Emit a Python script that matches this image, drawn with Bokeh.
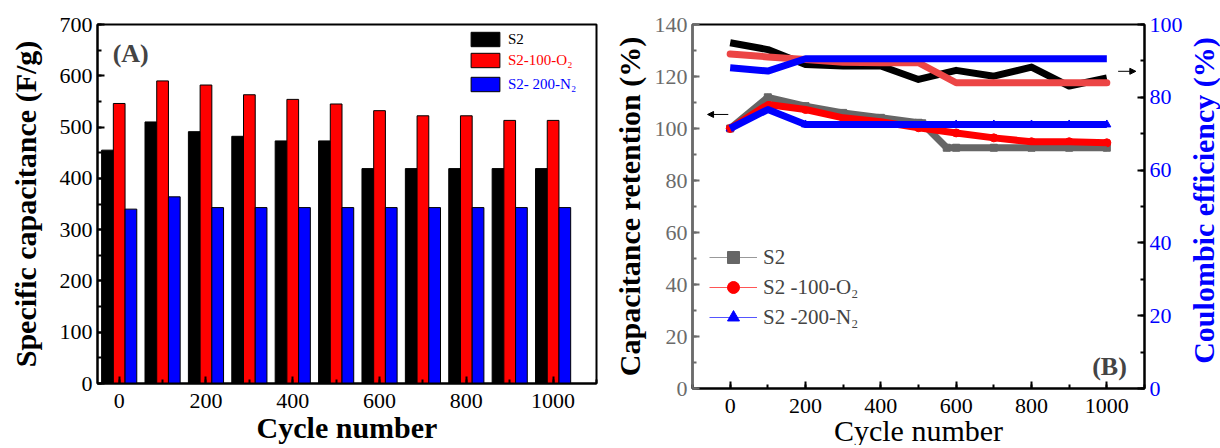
import math
from bokeh.plotting import figure
from bokeh.layouts import row
from bokeh.models import (Range1d, LinearAxis, SingleIntervalTicker, Legend, LegendItem,
                          Label, Arrow, NormalHead)
from bokeh.embed import file_html
from bokeh.resources import INLINE

SERIF = "Liberation Serif"

# ---------------- Panel A data ----------------
cycles = [0, 100, 200, 300, 400, 500, 600, 700, 800, 900, 1000]
cap_s2 = [455, 510, 491, 482, 473, 473, 419, 419, 419, 419, 419]
cap_o2 = [546, 590, 582, 563, 554, 545, 532, 522, 522, 513, 513]
cap_n2 = [340, 364, 343, 343, 343, 343, 343, 343, 343, 343, 343]
bar_labels = ["S2", "S2-100-O\u2082", "S2- 200-N\u2082"]

# ---------------- Panel B data ----------------
ret_s2_x = [0, 100, 200, 300, 400, 500, 510, 575, 600, 700, 800, 900, 1000]
ret_s2 = [100, 112, 108.6, 106, 104.1, 102.2, 102, 92.6, 92.6, 92.6, 92.6, 92.6, 92.6]
ret_o2 = [100, 109.2, 107.3, 104.1, 102.6, 100.3, 98.3, 96.4, 94.9, 94.9, 94.5]
ret_n2 = [100, 107.3, 101.5, 101.5, 101.5, 101.5, 101.5, 101.5, 101.5, 101.5, 101.5]
ce_s2 = [95.0, 93.1, 89.0, 88.6, 88.6, 84.9, 87.4, 85.8, 88.3, 83.1, 85.3]
ce_o2 = [91.9, 91.1, 90.4, 89.6, 89.5, 89.5, 84.0, 84.0, 84.0, 84.0, 84.0]
ce_n2 = [88.1, 87.2, 90.6, 90.6, 90.6, 90.6, 90.6, 90.6, 90.6, 90.6, 90.6]
line_labels = ["S2", "S2 -100-O\u2082", "S2 -200-N\u2082"]


def style_axis(ax, color="black", label_color="black", bold=True, label_size="30px"):
    ax.axis_line_color = color
    ax.axis_line_width = 2
    ax.major_tick_line_color = color
    ax.minor_tick_line_color = color
    ax.major_tick_line_width = 2
    ax.minor_tick_line_width = 2
    ax.major_tick_in = 7
    ax.major_tick_out = 0
    ax.minor_tick_in = 4
    ax.minor_tick_out = 0
    ax.major_label_text_font = SERIF
    ax.major_label_text_font_size = "22px"
    ax.major_label_text_color = label_color
    ax.major_label_standoff = 5
    ax.axis_label_text_font = SERIF
    ax.axis_label_text_font_size = label_size
    ax.axis_label_text_font_style = "bold" if bold else "normal"
    ax.axis_label_text_color = "black"
    ax.axis_label_standoff = 6


# ================= Panel A =================
p1 = figure(frame_width=499, frame_height=359, min_border_left=97, min_border_right=4,
            min_border_top=24, min_border_bottom=57,
            x_range=Range1d(-50, 1100), y_range=Range1d(0, 700),
            output_backend="svg", toolbar_location=None)
p1.xgrid.visible = False
p1.ygrid.visible = False
p1.outline_line_color = "black"
p1.outline_line_width = 2

w = 27
r_s2 = p1.vbar(x=[c - w for c in cycles], top=cap_s2, width=w, fill_color="black", line_color="black", line_width=1)
r_o2 = p1.vbar(x=cycles, top=cap_o2, width=w, fill_color="#ff0000", line_color="black", line_width=1)
r_n2 = p1.vbar(x=[c + w for c in cycles], top=cap_n2, width=w, fill_color="#0000ff", line_color="black", line_width=1)

p1.xaxis.ticker = SingleIntervalTicker(interval=200, num_minor_ticks=2)
p1.yaxis.ticker = SingleIntervalTicker(interval=100, num_minor_ticks=2)
style_axis(p1.xaxis[0])
style_axis(p1.yaxis[0])
p1.xaxis.axis_label = "Cycle number"
p1.yaxis.axis_label = "Specific capacitance (F/g)"
p1.xaxis.major_label_standoff = 10
p1.xaxis.axis_label_standoff = 0
p1.yaxis.axis_label_standoff = 15

for rend, lab, col, yb in zip([r_s2, r_o2, r_n2], bar_labels, ["black", "#ff0000", "#0000ff"], [335, 314, 290]):
    lg = Legend(items=[LegendItem(label=lab, renderers=[rend])], location=(370, yb),
                glyph_width=36, glyph_height=18, label_height=18, label_standoff=5,
                padding=0, margin=0, border_line_alpha=0, background_fill_alpha=0,
                label_text_font=SERIF, label_text_font_size="15px", label_text_color=col)
    p1.add_layout(lg)

p1.add_layout(Label(x=-15, y=643, text="(A)", text_font=SERIF, text_font_size="26px",
                    text_font_style="bold", text_baseline="middle", text_align="left"))

# ================= Panel B =================
p2 = figure(frame_width=452, frame_height=364, min_border_left=92, min_border_right=40,
            min_border_top=20, min_border_bottom=56,
            x_range=Range1d(-100, 1100), y_range=Range1d(0, 140),
            output_backend="svg", toolbar_location=None)
p2.xgrid.visible = False
p2.ygrid.visible = False
p2.outline_line_color = "black"
p2.outline_line_width = 2
p2.extra_y_ranges = {"ce": Range1d(0, 100)}

# thin lines + markers at the measured points (mostly covered by the thick bands; used by the legend)
lg_items = []
for xs, ys, lab, lc, mc, mk, ms in zip([ret_s2_x, cycles, cycles], [ret_s2, ret_o2, ret_n2], line_labels,
                                       ["#999999", "#ff5555", "#5555ff"],
                                       ["#666666", "#ff0000", "#0000ff"],
                                       ["square", "circle", "triangle"], [7, 8, 8]):
    lr = p2.line(xs, ys, line_color=lc, line_width=1)
    sr = p2.scatter(xs, ys, marker=mk, size=ms, fill_color=mc, line_color=mc)
    lg_items.append(LegendItem(label=lab, renderers=[lr, sr]))

# Coulombic efficiency (right axis)
p2.line(cycles, ce_s2, y_range_name="ce", line_color="black", line_width=7, line_join="round")
p2.line(cycles, ce_o2, y_range_name="ce", line_color="#ec4545", line_width=7, line_join="round", line_cap="round")
p2.line(cycles, ce_n2, y_range_name="ce", line_color="#0000ff", line_width=7, line_join="round")
# Capacitance retention (left axis)
p2.line(ret_s2_x, ret_s2, line_color="#666666", line_width=7, line_join="round")
p2.line(cycles, ret_o2, line_color="#ff0000", line_width=7, line_join="round", line_cap="round")
p2.line(cycles, ret_n2, line_color="#0000ff", line_width=7, line_join="round")

leg2 = Legend(items=lg_items, location=(17, 56), glyph_width=48, glyph_height=30, label_height=30,
              spacing=0, label_standoff=6, padding=0, margin=0, border_line_alpha=0,
              background_fill_alpha=0, label_text_font=SERIF, label_text_font_size="21px")
p2.add_layout(leg2)

p2.xaxis.ticker = SingleIntervalTicker(interval=200, num_minor_ticks=2)
p2.yaxis.ticker = SingleIntervalTicker(interval=20, num_minor_ticks=2)
style_axis(p2.xaxis[0], bold=False)
style_axis(p2.yaxis[0], color="#6b6b6b", label_color="#6b6b6b")
p2.xaxis.axis_label = "Cycle number"
p2.yaxis.axis_label = "Capacitance retention (%)"
p2.xaxis.major_label_standoff = 10
p2.xaxis.axis_label_standoff = -2

rax = LinearAxis(y_range_name="ce", ticker=SingleIntervalTicker(interval=20, num_minor_ticks=2))
style_axis(rax, color="black", label_color="#0000ff")
p2.add_layout(rax, "right")

p2.add_layout(Arrow(end=NormalHead(size=6, fill_color="black", line_color="black"),
                    x_start=-5, y_start=105.4, x_end=-60, y_end=105.4, line_width=1))
p2.add_layout(Arrow(end=NormalHead(size=6, fill_color="black", line_color="black"),
                    x_start=1030, y_start=122, x_end=1077, y_end=122, line_width=1))
p2.add_layout(Label(x=1053, y=8.5, text="(B)", text_font=SERIF, text_font_size="26px",
                    text_font_style="bold", text_baseline="middle", text_align="right"))

# narrow strip holding the right-axis title, reading bottom to top
p3 = figure(frame_width=36, frame_height=440, min_border=0, x_range=Range1d(0, 1), y_range=Range1d(0, 1),
            output_backend="svg", toolbar_location=None)
p3.axis.visible = False
p3.grid.visible = False
p3.outline_line_color = None
p3.add_layout(Label(x=0.5, y=0.6, angle=math.pi / 2, text="Coulombic efficiency (%)",
                    text_font=SERIF, text_font_size="30px", text_font_style="bold",
                    text_color="#0000ff", text_align="center", text_baseline="middle"))

layout = row(p1, p2, p3)
open("out.html", "w").write(file_html(layout, INLINE))
